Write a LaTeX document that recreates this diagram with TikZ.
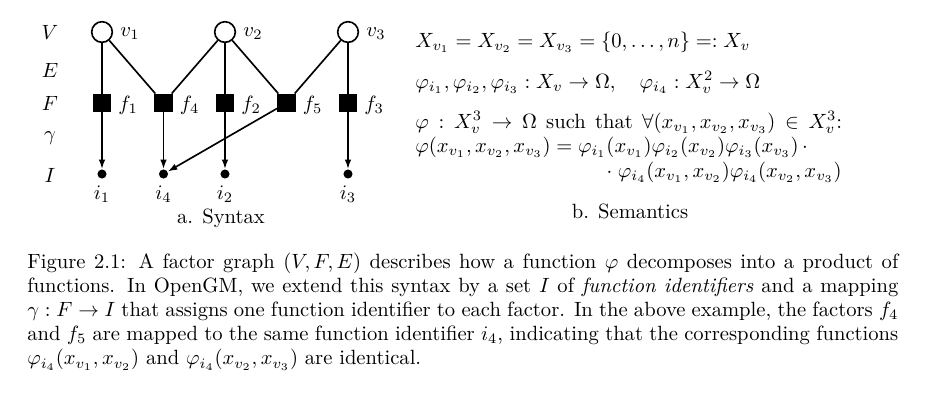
\documentclass[tikz,border=0pt]{standalone}
\usetikzlibrary{arrows.meta}
\begin{document}
\begin{tikzpicture}[x=0.485pt,y=-0.485pt,
  font=\fontsize{10}{11.75}\selectfont,
  var/.style={circle, draw, line width=0.8pt, minimum size=10pt, inner sep=0pt},
  fac/.style={rectangle, fill=black, minimum size=8.8pt, inner sep=0pt},
  idn/.style={circle, fill=black, minimum size=4.4pt, inner sep=0pt},
  lab/.style={inner sep=0pt, anchor=base west},
  rowlab/.style={inner sep=0pt, anchor=base},
  edge/.style={line width=0.8pt},
  map/.style={line width=0.8pt, -{Latex[length=4.6pt,width=3.2pt]}}]
\useasboundingbox (0,0) rectangle (926,400);
% variables
\node[var] (v1) at (102,32) {};
\node[var] (v2) at (225,32) {};
\node[var] (v3) at (348,32) {};
% factors
\node[fac] (f1) at (102,103) {};
\node[fac] (f4) at (163.5,103) {};
\node[fac] (f2) at (225,103) {};
\node[fac] (f5) at (286.5,103) {};
\node[fac] (f3) at (348,103) {};
% identifiers
\node[idn] (i1) at (102,174) {};
\node[idn] (i4) at (163.5,174) {};
\node[idn] (i2) at (225,174) {};
\node[idn] (i3) at (348,174) {};
% row labels
\node[rowlab] (lV) at (50,39) {$V$};
\node[rowlab] (lE) at (50,77) {$E$};
\node[rowlab] (lF) at (50,110) {$F$};
\node[rowlab] (lG) at (50,140) {$\gamma$};
\node[rowlab] (lI) at (50,182) {$I$};
% node labels
\node[lab] (tv1) at (120,36) {$v_1$};
\node[lab] (tv2) at (243,36) {$v_2$};
\node[lab] (tv3) at (366,36) {$v_3$};
\node[lab] (tf1) at (118,110) {$f_1$};
\node[lab] (tf4) at (179.5,110) {$f_4$};
\node[lab] (tf2) at (241,110) {$f_2$};
\node[lab] (tf5) at (302.5,110) {$f_5$};
\node[lab] (tf3) at (364,110) {$f_3$};
\node[rowlab] (ti1) at (102,199) {$i_1$};
\node[rowlab] (ti4) at (163.5,199) {$i_4$};
\node[rowlab] (ti2) at (225,199) {$i_2$};
\node[rowlab] (ti3) at (348,199) {$i_3$};
\node[rowlab] (capa) at (221,223) {a. Syntax};
% edges
\draw[edge] (v1) -- (f1);
\draw[edge] (v1) -- (f4);
\draw[edge] (v2) -- (f4);
\draw[edge] (v2) -- (f2);
\draw[edge] (v2) -- (f5);
\draw[edge] (v3) -- (f5);
\draw[edge] (v3) -- (f3);
% mapping gamma
\draw[map] (f1) -- (i1);
\draw[map] (f4) -- (i4);
\draw[map] (f2) -- (i2);
\draw[map] (f3) -- (i3);
\draw[map] (f5) -- (i4);
% semantics
\node[lab] (s1) at (415,47) {$X_{v_1} = X_{v_2} = X_{v_3} = \{0,\dots,n\} =: X_v$};
\node[lab] (s2) at (415,88) {$\varphi_{i_1},\varphi_{i_2},\varphi_{i_3} : X_v \to \Omega, \quad \varphi_{i_4} : X_v^2 \to \Omega$};
\node[lab] (s3) at (415,128) {\hbox to 207pt{$\varphi : X_v^3 \to \Omega$ such that $\forall(x_{v_1},x_{v_2},x_{v_3}) \in X_v^3$:}};
\node[lab] (s4) at (415,152.5) {$\varphi(x_{v_1},x_{v_2},x_{v_3}) = \varphi_{i_1}(x_{v_1})\varphi_{i_2}(x_{v_2})\varphi_{i_3}(x_{v_3}) \,\cdot$};
\node[inner sep=0pt, anchor=base east] (s5) at (842,177) {$\cdot\; \varphi_{i_4}(x_{v_1},x_{v_2})\varphi_{i_4}(x_{v_2},x_{v_3})$};
\node[rowlab] (capb) at (630,218) {b. Semantics};
% caption
\node[lab] (cap) at (27,268) {\parbox[t]{422.4pt}{Figure 2.1: A factor graph $(V,F,E)$ describes how a function $\varphi$ decomposes into a product of functions. In OpenGM, we extend this syntax by a set $I$ of \emph{function identifiers} and a mapping $\gamma : F \to I$ that assigns one function identifier to each factor. In the above example, the factors $f_4$ and $f_5$ are mapped to the same function identifier $i_4$, indicating that the corresponding functions $\varphi_{i_4}(x_{v_1},x_{v_2})$ and $\varphi_{i_4}(x_{v_2},x_{v_3})$ are identical.}};
\end{tikzpicture}
\end{document}
